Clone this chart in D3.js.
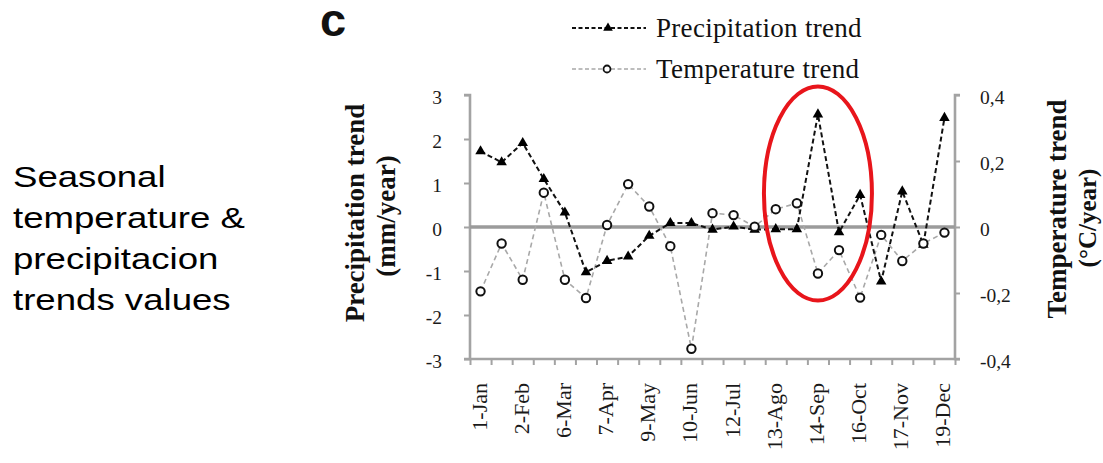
<!DOCTYPE html>
<html>
<head>
<meta charset="utf-8">
<script src="https://cdn.jsdelivr.net/npm/d3@7/dist/d3.min.js"></script>
<style>
  html, body { margin: 0; padding: 0; background: #fff; }
  svg { display: block; }
</style>
</head>
<body>
<svg id="chart" width="1103" height="463"></svg>
<script>
// Seasonal trend series (23 periods through the year)
const periods = d3.range(23);
const tickLabels = ["1-Jan", "2-Feb", "6-Mar", "7-Apr", "9-May", "10-Jun",
                    "12-Jul", "13-Ago", "14-Sep", "16-Oct", "17-Nov", "19-Dec"];
const precipitation = [1.72, 1.47, 1.91, 1.09, 0.33, -1.03, -0.77, -0.67, -0.20, 0.09, 0.09, -0.06,
                       0.01, -0.06, -0.05, -0.05, 2.56, -0.12, 0.73, -1.24, 0.81, -0.40, 2.48];
const temperature = [-0.195, -0.05, -0.16, 0.104, -0.16, -0.215, 0.006, 0.13, 0.062, -0.058, -0.369, 0.042,
                     0.036, 0.001, 0.054, 0.072, -0.141, -0.07, -0.214, -0.024, -0.103, -0.05, -0.017];
const leftTicks = [-3, -2, -1, 0, 1, 2, 3];
const rightTicks = [-0.4, -0.2, 0, 0.2, 0.4];
const sideNote = ["Seasonal", "temperature &", "precipitacion", "trends values"];
const highlightPeriod = 16;

const svg = d3.select("#chart");
const plot = { left: 470, right: 955, top: 95, bottom: 359 };
const axisGrey = "#a3a3a3";
const serif = "'Liberation Serif', 'Times New Roman', serif";
const sans = "'Liberation Sans', Arial, sans-serif";

const x = d3.scaleBand().domain(periods).range([plot.left, plot.right]).padding(0);
const cx = i => x(i) + x.bandwidth() / 2;
const yP = d3.scaleLinear().domain([-3, 3]).range([plot.bottom, plot.top]);
const yT = d3.scaleLinear().domain([-0.4, 0.4]).range([plot.bottom, plot.top]);
const fmtComma = d => d === 0 ? "0" : d3.format(".1f")(d).replace(".", ",").replace("−", "-");

// Left description (wide sans text)
const note = svg.append("text")
  .attr("transform", "translate(13,0) scale(1.22,1)")
  .attr("font-family", sans).attr("font-size", 30).attr("fill", "#000");
sideNote.forEach((line, i) => {
  note.append("tspan").attr("x", 0).attr("y", 187 + i * 41).text(line);
});

// Panel letter
svg.append("text").attr("x", 320).attr("y", 36)
  .attr("font-family", sans).attr("font-weight", "bold").attr("font-size", 47)
  .attr("fill", "#111").text("c");

// Left axis
const gL = svg.append("g").attr("transform", `translate(${plot.left},0)`)
  .call(d3.axisLeft(yP).tickValues(leftTicks).tickSize(6).tickPadding(22)
        .tickFormat(d => d3.format("d")(d).replace("−", "-")));
// Right axis
const gR = svg.append("g").attr("transform", `translate(${plot.right},0)`)
  .call(d3.axisRight(yT).tickValues(rightTicks).tickSize(5).tickPadding(20).tickFormat(fmtComma));
// Bottom axis with ticks at period boundaries
const boundaries = d3.range(24);
const xb = d3.scaleLinear().domain([0, 23]).range([plot.left, plot.right]);
const gB = svg.append("g").attr("transform", `translate(0,${plot.bottom})`)
  .call(d3.axisBottom(xb).tickValues(boundaries).tickSize(6).tickFormat(""));

[gL, gR, gB].forEach(g => {
  g.select(".domain").attr("stroke", axisGrey).attr("stroke-width", 2.6);
  g.selectAll(".tick line").attr("stroke", axisGrey).attr("stroke-width", 2);
  g.selectAll(".tick text").attr("font-family", serif).attr("font-size", 19.5).attr("fill", "#1a1a1a");
});
gL.select(".domain").attr("d", `M-6,${plot.top}H0V${plot.bottom}H-6`);
gR.select(".domain").attr("d", `M5,${plot.top}H0V${plot.bottom}H5`);
gB.select(".domain").attr("d", `M${plot.left},0H${plot.right}`);
gL.selectAll(".tick text").attr("dy", "0.45em");
gR.selectAll(".tick text").attr("dy", "0.45em");

// Category labels, every second period
svg.append("g").selectAll("text")
  .data(tickLabels)
  .join("text")
  .attr("transform", (d, i) => `translate(${cx(i * 2) + 6},383) rotate(-90)`)
  .attr("text-anchor", "end")
  .attr("font-family", serif).attr("font-size", 22).attr("fill", "#1a1a1a")
  .text(d => d);

// Zero reference line
svg.append("line")
  .attr("x1", plot.left).attr("x2", plot.right)
  .attr("y1", yP(0)).attr("y2", yP(0))
  .attr("stroke", "#9b9b9b").attr("stroke-width", 3.5);

// Temperature trend
svg.append("path")
  .datum(temperature)
  .attr("fill", "none").attr("stroke", "#a8a8a8").attr("stroke-width", 1.6)
  .attr("stroke-dasharray", "5,3.5")
  .attr("d", d3.line().x((d, i) => cx(i)).y(d => yT(d)));

// Precipitation trend
svg.append("path")
  .datum(precipitation)
  .attr("fill", "none").attr("stroke", "#111").attr("stroke-width", 2)
  .attr("stroke-dasharray", "5,3")
  .attr("d", d3.line().x((d, i) => cx(i)).y(d => yP(d)));

const triangle = d3.symbol().type(d3.symbolTriangle).size(48);
svg.append("g").selectAll("path")
  .data(precipitation)
  .join("path")
  .attr("transform", (d, i) => `translate(${cx(i)},${yP(d)})`)
  .attr("d", triangle).attr("fill", "#000");

svg.append("g").selectAll("circle")
  .data(temperature)
  .join("circle")
  .attr("cx", (d, i) => cx(i)).attr("cy", d => yT(d)).attr("r", 4.2)
  .attr("fill", "#fff").attr("stroke", "#111").attr("stroke-width", 2);

// Axis titles
const titles = svg.append("g").attr("font-family", serif).attr("font-weight", "bold")
  .attr("font-size", 27).attr("fill", "#111").attr("text-anchor", "middle");
titles.append("text").attr("transform", "translate(364,213) rotate(-90)").text("Precipitation trend");
titles.append("text").attr("transform", "translate(395,216) rotate(-90)").text("(mm/year)");
titles.append("text").attr("transform", "translate(1066,209) rotate(-90)").text("Temperature trend");
titles.append("text").attr("transform", "translate(1096,218) rotate(-90)")
  .attr("font-size", 25).text("(°C/year)");

// Legend
const legend = svg.append("g");
const legendItems = [
  { label: "Precipitation trend", y: 28, color: "#111", width: 2, mark: "tri" },
  { label: "Temperature trend", y: 69, color: "#a8a8a8", width: 1.6, mark: "circ" }
];
legendItems.forEach(it => {
  legend.append("line").attr("x1", 572).attr("x2", 646).attr("y1", it.y).attr("y2", it.y)
    .attr("stroke", it.color).attr("stroke-width", it.width).attr("stroke-dasharray", "4,2.5");
  if (it.mark === "tri") {
    legend.append("path").attr("transform", `translate(608,${it.y})`)
      .attr("d", d3.symbol().type(d3.symbolTriangle).size(40)).attr("fill", "#000");
  } else {
    legend.append("circle").attr("cx", 607).attr("cy", it.y).attr("r", 3.5)
      .attr("fill", "#fff").attr("stroke", "#111").attr("stroke-width", 1.8);
  }
  legend.append("text").attr("x", 656).attr("y", it.y + 9)
    .attr("font-family", serif).attr("font-size", 27).attr("fill", "#111")
    .attr("letter-spacing", 0.3).text(it.label);
});

// Highlight ellipse around the September peak
svg.append("ellipse")
  .attr("cx", cx(highlightPeriod)).attr("cy", 193.5).attr("rx", 54).attr("ry", 107)
  .attr("fill", "none").attr("stroke", "#e8151b").attr("stroke-width", 4);
</script>
</body>
</html>
